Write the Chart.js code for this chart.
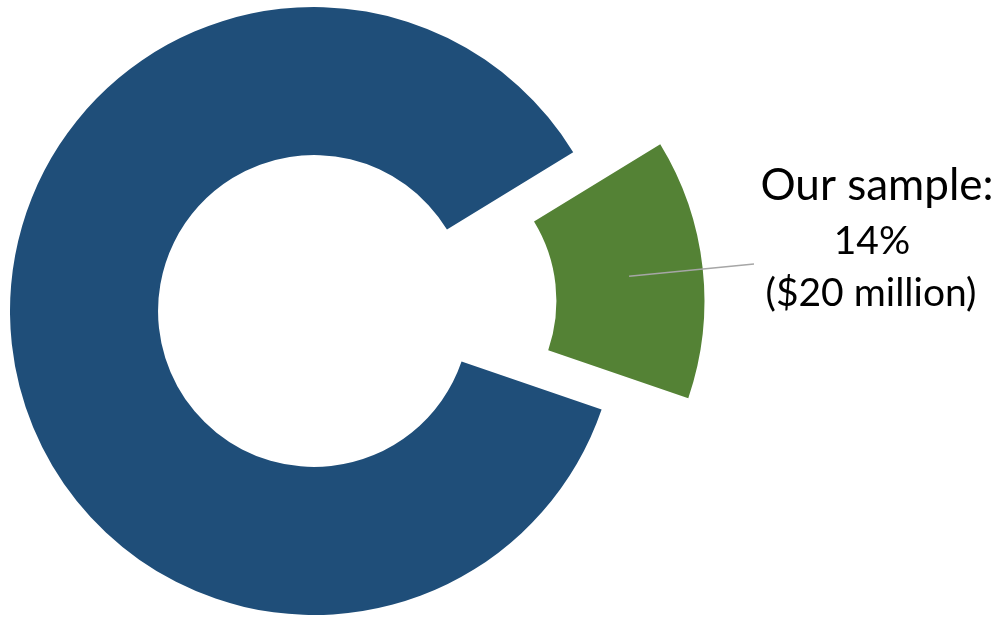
<!DOCTYPE html>
<html>
<head>
<meta charset="utf-8">
<script src="https://cdn.jsdelivr.net/npm/chart.js@4"></script>
<style>
  body { margin: 0; background: #fff; }
  #wrap { width: 1005px; height: 619px; }
</style>
</head>
<body>
<div id="wrap"><canvas id="donut"></canvas></div>
<script>
// data
const categories = ['Other', 'Our sample'];
const shares = [86, 14];
const sampleValue = '$20 million';
const colors = ['#1f4e79', '#548235'];
const explode = [0, 91];     // px the slice is pulled out
const shrink = [0, 4];       // exploded slice is drawn a bit smaller

// pulls the exploded slice away from the center
const explodePlugin = {
    id: 'explode',
    afterDatasetUpdate(chart, args) {
        const meta = chart.getDatasetMeta(args.index);
        meta.data.forEach((arc, i) => {
            if (!explode[i]) return;
            const mid = (arc.startAngle + arc.endAngle) / 2;
            arc.x += Math.cos(mid) * explode[i];
            arc.y += Math.sin(mid) * explode[i];
            arc.outerRadius -= shrink[i];
            arc.innerRadius -= shrink[i];
        });
    }
};

// callout text with leader line
const calloutPlugin = {
    id: 'callout',
    afterDraw(chart) {
        const ctx = chart.ctx;
        const arc = chart.getDatasetMeta(0).data[1];
        const p = arc.tooltipPosition();
        ctx.save();
        ctx.strokeStyle = '#a6a6a6';
        ctx.lineWidth = 1.5;
        ctx.beginPath();
        ctx.moveTo(p.x, p.y);
        ctx.lineTo(754, 264);
        ctx.stroke();

        ctx.fillStyle = '#000';
        ctx.textAlign = 'center';
        ctx.textBaseline = 'alphabetic';
        ctx.font = '44px Lato, "Noto Sans", sans-serif';
        ctx.fillText(categories[1] + ':', 877, 200);
        ctx.font = '39px Lato, "Noto Sans", sans-serif';
        ctx.fillText(shares[1] + '%', 872, 254);
        ctx.fillText('(' + sampleValue + ')', 871, 306);
        ctx.restore();
    }
};

new Chart(document.getElementById('donut'), {
    type: 'doughnut',
    data: {
        labels: categories,
        datasets: [{
            data: shares,
            backgroundColor: colors,
            borderWidth: 0
        }]
    },
    options: {
        responsive: true,
        maintainAspectRatio: false,
        animation: false,
        rotation: 108.9,
        radius: 304,
        cutout: '51.3%',
        layout: { padding: { left: 0, right: 377, top: 3, bottom: 0 } },
        plugins: {
            legend: { display: false },
            tooltip: { enabled: false }
        }
    },
    plugins: [explodePlugin, calloutPlugin]
});
</script>
</body>
</html>
